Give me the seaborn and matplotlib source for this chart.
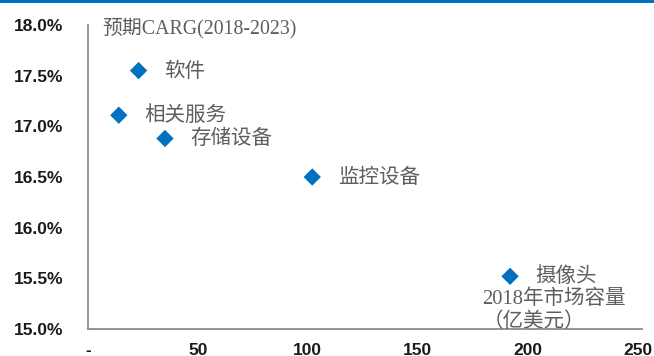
import matplotlib
matplotlib.use("Agg")
import matplotlib.pyplot as plt
from matplotlib.patches import Rectangle
from matplotlib.ticker import FuncFormatter
import seaborn as sns
import pandas as pd

# 2018 market size (USD 100m) and expected CAGR 2018-2023 by segment
segments = ["软件", "相关服务", "存储设备", "监控设备", "摄像头"]
market_size = [23, 14, 35, 102, 192]
cagr = [0.1755, 0.1711, 0.1688, 0.1650, 0.1552]

x_ticks = [0, 50, 100, 150, 200, 250]
x_tick_labels = ["-", "50", "100", "150", "200", "250"]
y_ticks = [0.150, 0.155, 0.160, 0.165, 0.170, 0.175, 0.180]

title_text = "预期CARG(2018-2023)"
x_label_text = "2018年市场容量\n（亿美元）"

df = pd.DataFrame({"segment": segments, "size": market_size, "cagr": cagr})

sns.set_style("white")
plt.rcParams["font.family"] = ["Liberation Sans", "Noto Sans CJK SC", "DejaVu Sans"]

BLUE = "#0070C0"
LABEL_GREY = "#5e5e5e"
CJK_SERIF = ["Liberation Serif", "Noto Sans CJK SC", "DejaVu Sans"]

fig = plt.figure(figsize=(6.54, 3.56), dpi=100)
ax = fig.add_axes([0.1346, 0.0758, 0.847, 0.854])

# thin accent band across the top edge
fig.patches.append(Rectangle((0, 1 - 2.5 / 356), 1, 2.5 / 356, transform=fig.transFigure,
                             facecolor=BLUE, edgecolor="none", zorder=0))

sns.scatterplot(data=df, x="size", y="cagr", marker="D", s=78, color=BLUE,
                edgecolor="none", ax=ax, legend=False, zorder=3)

for seg, xv, yv in zip(df["segment"], df["size"], df["cagr"]):
    ax.annotate(seg, (xv, yv), xytext=(18.5, 0), textcoords="offset points",
                ha="left", va="center", fontsize=14.8, color=LABEL_GREY,
                family=["Noto Sans CJK SC", "DejaVu Sans"])

ax.set_xlim(0, 252)
ax.set_ylim(0.150, 0.180)
ax.set_xticks(x_ticks)
ax.set_xticklabels(x_tick_labels)
ax.set_yticks(y_ticks)
ax.yaxis.set_major_formatter(FuncFormatter(lambda v, _: f"{v * 100:.1f}%"))
ax.tick_params(axis="both", length=0, labelsize=12.5, labelcolor="#1a1a1a")
ax.tick_params(axis="y", pad=18)
ax.tick_params(axis="x", pad=10)
for lbl in ax.get_xticklabels() + ax.get_yticklabels():
    lbl.set_fontweight("semibold")
ax.set_xlabel("")
ax.set_ylabel("")

for side in ("top", "right"):
    ax.spines[side].set_visible(False)
for side in ("left", "bottom"):
    ax.spines[side].set_color("#8c8c8c")
    ax.spines[side].set_linewidth(1.3)

ax.text(6.4, 0.1797, title_text, ha="left", va="center", fontsize=14.3,
        color=LABEL_GREY, family=CJK_SERIF)
ax.text(179.5, 0.15178, x_label_text, ha="left", va="center", fontsize=14.8,
        color=LABEL_GREY, family=CJK_SERIF, linespacing=1.25)

fig.savefig("out.png", dpi=100)
